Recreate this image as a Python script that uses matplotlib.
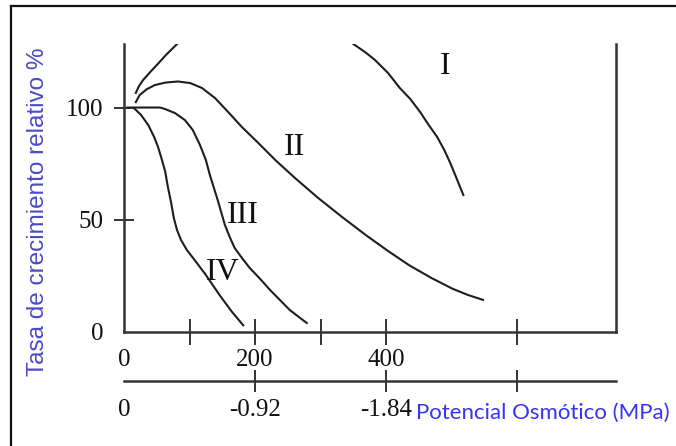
import matplotlib
matplotlib.use("Agg")
import matplotlib.pyplot as plt
from matplotlib.lines import Line2D

# relative growth (%) vs solute concentration, four response types
curve_I_left_x = [18, 23, 29, 40, 50, 64, 81]
curve_I_left_y = [106.5, 109.6, 112.2, 115.8, 118.9, 123.4, 128.3]
curve_I_right_x = [350, 368, 383, 403, 421, 437, 452, 464, 478, 489, 498, 508, 518]
curve_I_right_y = [128.3, 124.7, 121.2, 115.4, 108.7, 103.8, 98, 92.7, 86.9, 81, 75.3, 68.2, 61]

curve_II_x = [18, 24, 35, 47, 63, 82, 101, 119, 139, 159, 180, 205, 231, 261,
              296, 333, 369, 403, 435, 469, 502, 525, 548]
curve_II_y = [102.4, 105.6, 108.2, 110.0, 111.1, 111.6, 110.9, 108.7, 104.2, 98, 91.3,
              84.2, 76.6, 68.6, 59.8, 51.2, 43.2, 36.1, 29.8, 24.1, 19.2, 16.5, 14.3]

curve_III_x = [5, 55, 63, 78, 93, 105, 116, 125, 131, 143, 154, 162, 169, 180, 192,
               208, 223, 253, 279]
curve_III_y = [100, 100, 99.3, 97.5, 94.4, 90, 83.3, 76.6, 70, 58.8, 47.7, 41.9, 37.4,
               33, 28.5, 23.6, 18.7, 9.8, 4]

curve_IV_x = [15, 26, 37, 46, 52, 58, 63, 67, 72, 76, 81, 87, 96, 108, 124, 147, 165, 182]
curve_IV_y = [99.8, 96.7, 92.2, 86.9, 82.4, 76.6, 71.3, 64.6, 57.5, 50.8, 45.4, 41, 36.5,
              32, 25.8, 16, 8.9, 3]

curve_names = ["I", "II", "III", "IV"]
name_x = [490, 261, 182, 150]
name_y = [118.3, 82.4, 52, 26.7]

conc_ticks = [0, 100, 200, 300, 400, 600]
conc_labels = ["0", "", "200", "", "400", ""]
growth_ticks = [0, 50, 100]
growth_labels = ["0", "50", "100"]
mpa_ticks = [0, 200, 400, 600]
mpa_labels = ["0", "-0.92", "-1.84", ""]

serif = "Liberation Serif"
ink = "#1e1e1e"
axis_col = "#333333"

fig = plt.figure(figsize=(6.76, 4.46), dpi=100)
ax = fig.add_axes([124 / 676, 1 - 332 / 446, 492 / 676, 288 / 446])
ax.set_xlim(0, 751)
ax.set_ylim(0, 128.3)

for s in ["left", "bottom", "right"]:
    ax.spines[s].set_linewidth(1.8)
    ax.spines[s].set_color(axis_col)
ax.spines["top"].set_visible(False)

for xs, ys in [(curve_I_left_x, curve_I_left_y), (curve_I_right_x, curve_I_right_y),
               (curve_II_x, curve_II_y), (curve_III_x, curve_III_y),
               (curve_IV_x, curve_IV_y)]:
    ax.plot(xs, ys, color=ink, lw=1.5, solid_joinstyle="round")

for name, x, y in zip(curve_names, name_x, name_y):
    ax.text(x, y, name, ha="center", va="center", fontsize=23, family=serif, color="#111111")

# concentration ticks cross the axis
ax.set_xticks(conc_ticks)
ax.set_xticklabels(conc_labels, fontsize=18, family=serif, color="#111111")
ax.tick_params(axis="x", direction="inout", length=19, width=1.4, color=axis_col, pad=3)
ax.xaxis.get_major_ticks()[0].tick1line.set_visible(False)

ax.set_yticks(growth_ticks)
ax.set_yticklabels(growth_labels, fontsize=18, family=serif, color="#111111")
ax.tick_params(axis="y", direction="inout", length=14, width=1.4, color=axis_col, pad=8)
ax.yaxis.get_major_ticks()[0].tick1line.set_visible(False)

# second scale: osmotic potential
sec = ax.secondary_xaxis(-0.17)
sec.spines["bottom"].set_linewidth(1.8)
sec.spines["bottom"].set_color(axis_col)
sec.set_xticks(mpa_ticks)
sec.set_xticklabels(mpa_labels, fontsize=18, family=serif, color="#111111")
sec.tick_params(axis="x", direction="inout", length=16.5, width=1.4, color=axis_col, pad=5)
sec.xaxis.get_major_ticks()[0].tick1line.set_visible(False)

fig.text(38 / 676, 1 - 212 / 446, "Tasa de crecimiento relativo %", rotation=90,
         ha="center", va="center", fontsize=17.5, family="Liberation Sans", color="#4b4bc4")
fig.text(416 / 676, 1 - 413 / 446, "Potencial Osmótico (MPa)", ha="left", va="center",
         fontsize=16, family="Lato", color="#3636f0")

# frame lines along the left and top edges
fig.add_artist(Line2D([11 / 676, 11 / 676], [0, 1 - 6 / 446], transform=fig.transFigure,
                      color="#111111", lw=1.6))
fig.add_artist(Line2D([11 / 676, 1], [1 - 6 / 446, 1 - 6 / 446], transform=fig.transFigure,
                      color="#111111", lw=1.6))

fig.savefig("out.png", dpi=100)
